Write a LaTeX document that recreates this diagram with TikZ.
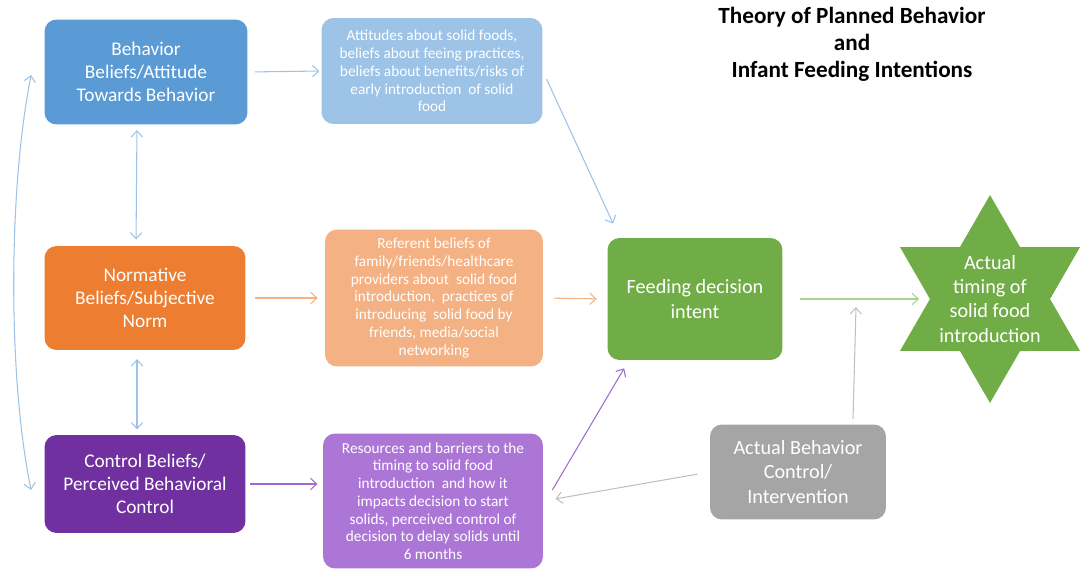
\documentclass[tikz,border=0pt]{standalone}
\usepackage{fontspec}
\setmainfont{Carlito}
\usetikzlibrary{shapes.geometric,calc,arrows.meta}

\definecolor{behavblue}{HTML}{5B9BD5}
\definecolor{lightblue}{HTML}{9DC3E6}
\definecolor{normorange}{HTML}{ED7D31}
\definecolor{lightorange}{HTML}{F4B183}
\definecolor{ctrlpurple}{HTML}{7030A0}
\definecolor{lightpurple}{HTML}{AC76D6}
\definecolor{arrowpurple}{HTML}{9E6BD0}
\definecolor{intentgreen}{HTML}{70AD47}
\definecolor{arrowgreen}{HTML}{A9D18E}
\definecolor{actualgray}{HTML}{A5A5A5}
\definecolor{arrowgray}{HTML}{C0C0C0}

\begin{document}
\begin{tikzpicture}[x=0.02cm,y=-0.02cm,
  >={Straight Barb[length=3.5pt,width=6.5pt]},
  box/.style={rounded corners=0.24cm,text=white,align=center,inner sep=2pt},
  big/.style={box,font=\fontsize{11}{13.2}\selectfont},
  small/.style={box,font=\fontsize{8.7}{10.1}\selectfont},
  link/.style={->,line width=0.6pt}]
\useasboundingbox (0,0) rectangle (1088,571);

% title
\node[align=center,font=\fontsize{13.2}{15.4}\selectfont\bfseries] (title) at (852,44)
  {Theory of Planned Behavior\\and\\Infant Feeding Intentions};

% left column
\node[big,fill=behavblue,minimum width=4.06cm,minimum height=2.1cm] (behav) at (146,72)
  {Behavior\\Beliefs/Attitude\\Towards Behavior};
\node[big,fill=normorange,minimum width=4.02cm,minimum height=2.08cm] (norm) at (145,298)
  {Normative\\Beliefs/Subjective\\Norm};
\node[big,fill=ctrlpurple,minimum width=4.02cm,minimum height=1.96cm] (control) at (145,484)
  {Control Beliefs/\\Perceived Behavioral\\Control};

% middle column
\node[small,fill=lightblue,minimum width=4.42cm,minimum height=2.12cm] (attit) at (432,71)
  {Attitudes about solid foods,\\beliefs about feeing practices,\\beliefs about benefits/risks of\\early introduction~ of solid\\food};
\node[small,fill=lightorange,minimum width=4.36cm,minimum height=2.74cm] (referent) at (434,298)
  {Referent beliefs of\\family/friends/healthcare\\providers about~ solid food\\introduction,~ practices of\\introducing~ solid food by\\friends, media/social\\networking};
\node[small,fill=lightpurple,minimum width=4.4cm,minimum height=2.7cm] (resources) at (433,501)
  {Resources and barriers to the\\timing to solid food\\introduction~ and how it\\impacts decision to start\\solids, perceived control of\\decision to delay solids until\\6 months};

% right part
\node[big,fill=intentgreen,minimum width=3.5cm,minimum height=2.44cm,font=\fontsize{11.5}{14}\selectfont] (intent) at (695,299)
  {Feeding decision\\intent};
\node[big,fill=actualgray,minimum width=3.52cm,minimum height=1.9cm,font=\fontsize{11.5}{14}\selectfont] (actual) at (798,472)
  {Actual Behavior\\Control/\\Intervention};
\node[star,star points=6,star point ratio=1.732,minimum size=4.16cm,inner sep=0pt,fill=intentgreen] (timing) at (990,299) {};
\node[align=center,text=white,font=\fontsize{11.5}{13.7}\selectfont] (timingtext) at (timing.center)
  {Actual\\timing of\\solid food\\introduction};

% connectors
\draw[link,lightblue,shorten <=4pt,shorten >=1pt] (behav.east) -- (attit.west);
\draw[link,lightblue,shorten <=5pt] (attit.east) -- ($(intent.north west)+(6,-14)$);
\draw[<->,line width=0.6pt,lightblue,shorten <=3pt,shorten >=3.5pt]
  ($(behav.south)+(-9,0)$) -- ($(norm.north)+(-9,0)$);
\draw[<->,line width=0.6pt,lightblue,shorten <=5pt,shorten >=3pt]
  ($(norm.south)+(-8,0)$) -- ($(control.north)+(-8,0)$);
\draw[link,lightorange,shorten <=5pt,shorten >=4pt] (norm.east) -- (referent.west);
\draw[link,lightorange,shorten <=6pt,shorten >=6pt] (referent.east) -- (intent.west);
\draw[link,arrowpurple,shorten <=2.5pt,shorten >=3pt] (control.east) -- (control.east -| resources.west);
\draw[link,arrowpurple] ($(resources.east)+(9,-11)$) -- ($(intent.south west)+(17,8)$);
\draw[link,arrowgray,shorten <=7pt,shorten >=7pt] (actual.west) -- (resources.east);
\coordinate (meet) at ($(actual.north)+(58,-117)$);
\draw[link,arrowgray] ($(actual.north)+(55,-5)$) -- (meet);
\draw[link,arrowgreen,shorten <=10pt,shorten >=6pt] (intent.east) -- (timing.west);
\coordinate (loopA) at ($(behav.west)+(-13,3)$);
\coordinate (loopB) at ($(control.west)+(-13,6)$);
\draw[<->,line width=0.6pt,lightblue] (loopA) .. controls (8,190) and (8,380) .. (loopB);
\end{tikzpicture}
\end{document}
